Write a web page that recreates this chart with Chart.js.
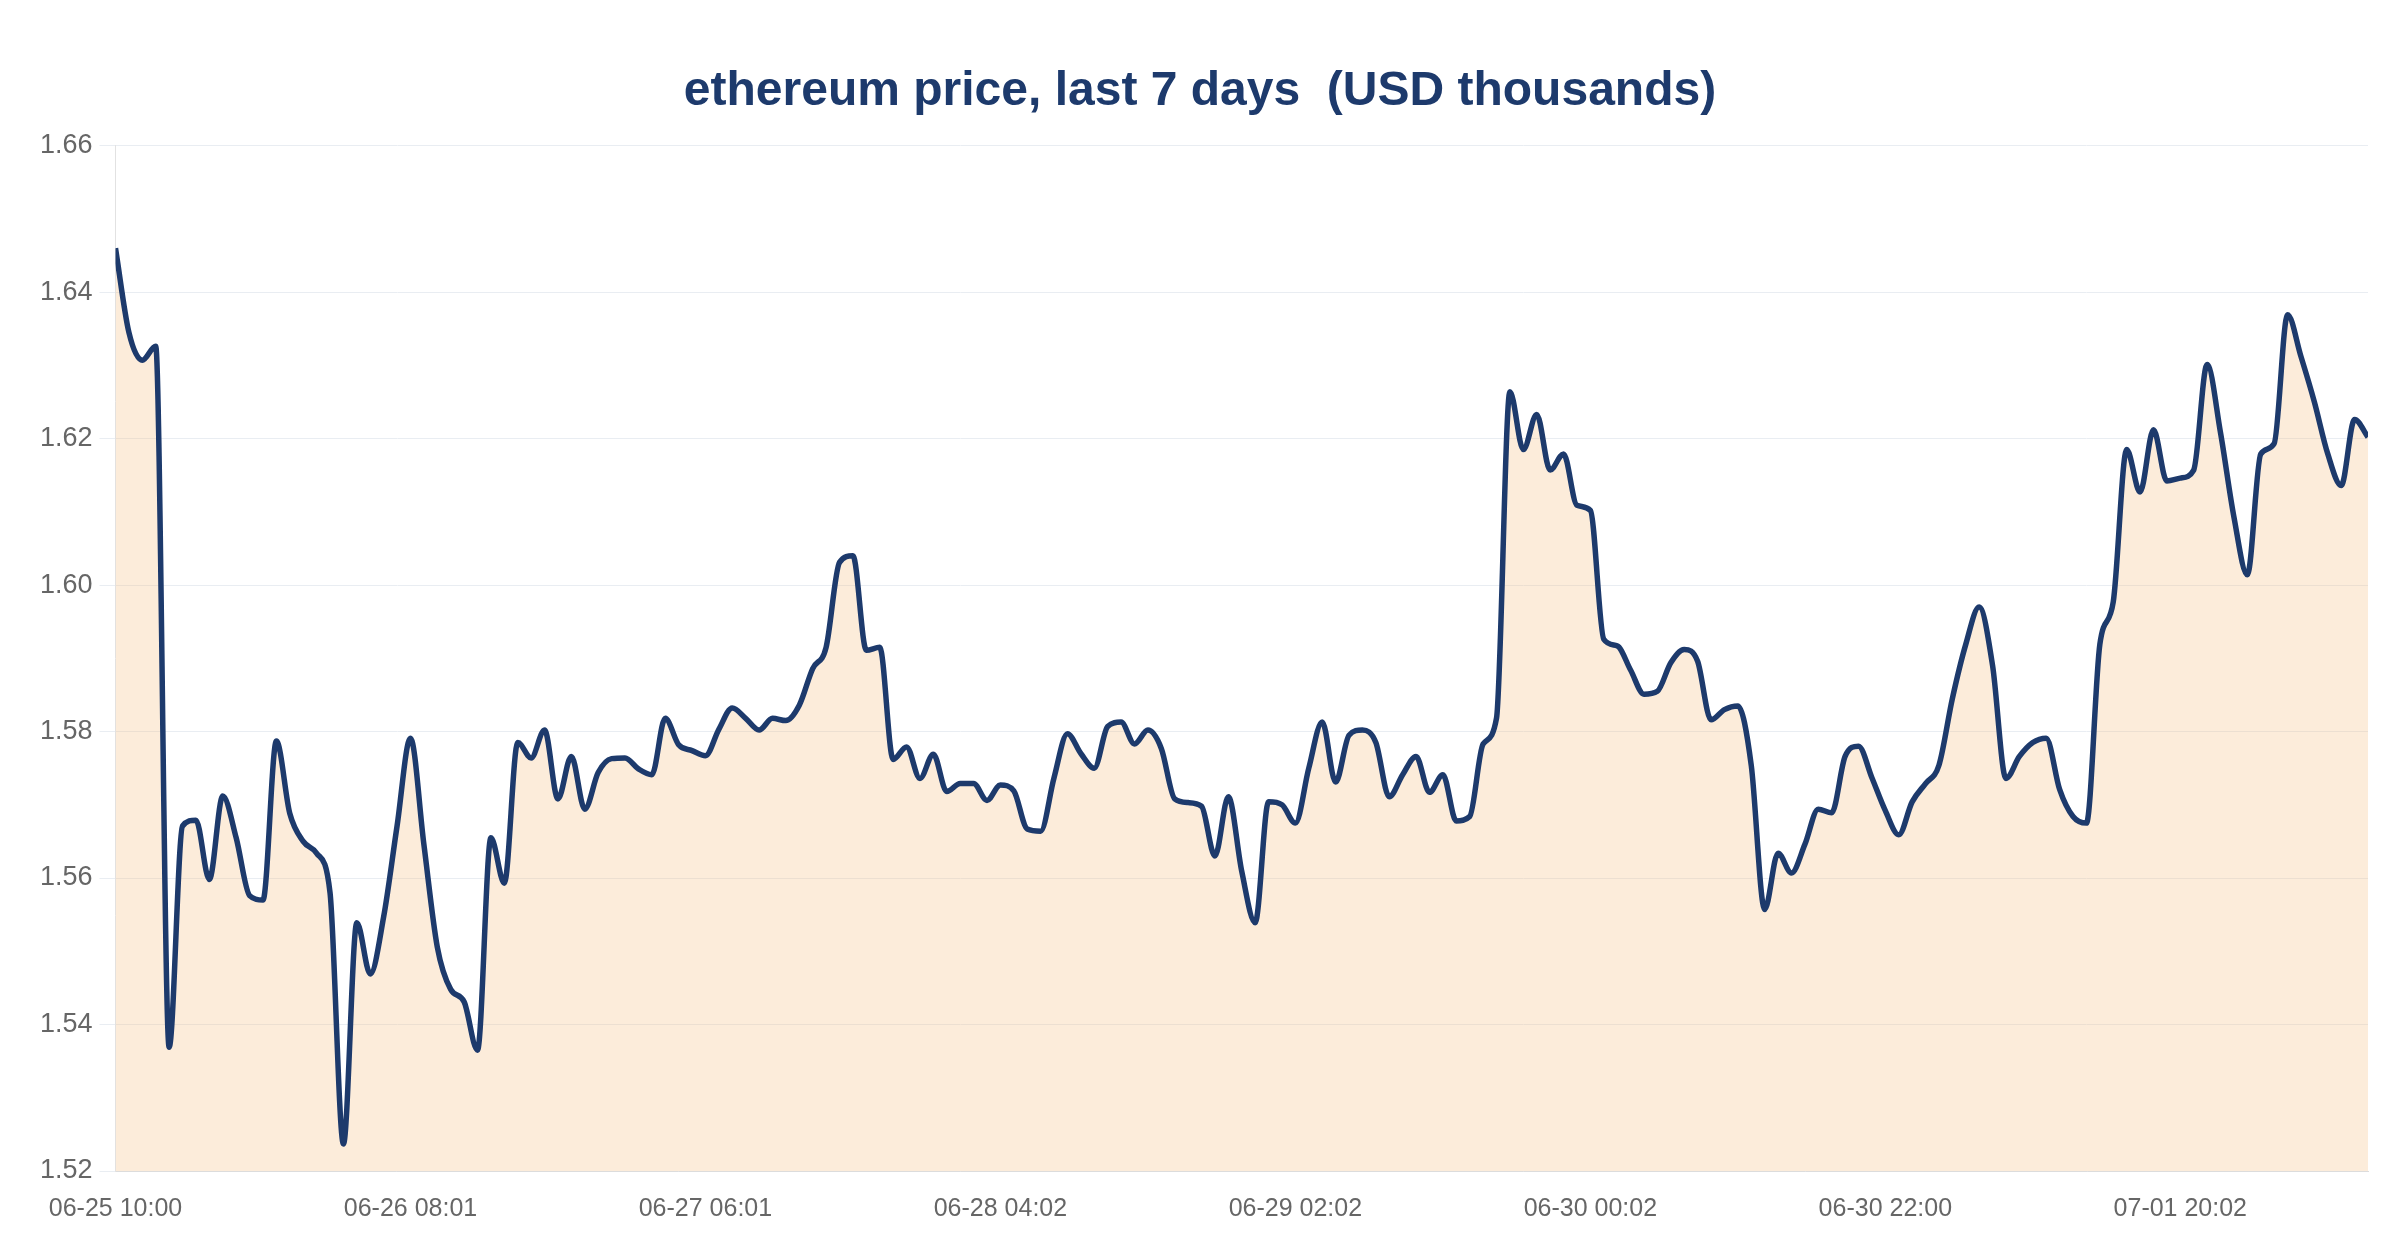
<!DOCTYPE html>
<html>
<head>
<meta charset="utf-8">
<script src="https://cdn.jsdelivr.net/npm/chart.js@4/dist/chart.umd.min.js"></script>
<style>
  html, body { margin: 0; padding: 0; background: #ffffff; }
  #wrap { width: 2400px; height: 1260px; }
</style>
</head>
<body>
<div id="wrap"><canvas id="c" width="2400" height="1260"></canvas></div>
<script>
const chartTitle = 'ethereum price, last 7 days  (USD thousands)';
const tickLabels = ['06-25 10:00', '06-26 08:01', '06-27 06:01', '06-28 04:02', '06-29 02:02', '06-30 00:02', '06-30 22:00', '07-01 20:02'];
const tickEvery = 22;
const yTicks = [1.52, 1.54, 1.56, 1.58, 1.60, 1.62, 1.64, 1.66];
const price = [
  1.6460, 1.6345, 1.6307, 1.6326, 1.5369, 1.5671, 1.5679, 1.5598, 1.5712, 1.5655,
  1.5576, 1.5570, 1.5787, 1.5688, 1.5650, 1.5634, 1.5580, 1.5237, 1.5539, 1.5469,
  1.5547, 1.5671, 1.5791, 1.5646, 1.5506, 1.5448, 1.5431, 1.5365, 1.5655, 1.5593,
  1.5785, 1.5764, 1.5802, 1.5708, 1.5766, 1.5694, 1.5744, 1.5763, 1.5764, 1.5749,
  1.5741, 1.5818, 1.5782, 1.5774, 1.5767, 1.5803, 1.5832, 1.5818, 1.5802, 1.5818,
  1.5815, 1.5836, 1.5886, 1.5915, 1.6031, 1.6040, 1.5911, 1.5915, 1.5762, 1.5779,
  1.5736, 1.5769, 1.5718, 1.5729, 1.5729, 1.5706, 1.5727, 1.5719, 1.5667, 1.5664,
  1.5737, 1.5797, 1.5770, 1.5750, 1.5807, 1.5813, 1.5783, 1.5802, 1.5777, 1.5708,
  1.5703, 1.5698, 1.5630, 1.5711, 1.5609, 1.5539, 1.5704, 1.5700, 1.5675, 1.5750,
  1.5813, 1.5731, 1.5795, 1.5802, 1.5785, 1.5711, 1.5741, 1.5766, 1.5717, 1.5741,
  1.5678, 1.5684, 1.5783, 1.5818, 1.6264, 1.6185, 1.6233, 1.6157, 1.6179, 1.6109,
  1.6102, 1.5926, 1.5917, 1.5884, 1.5851, 1.5855, 1.5894, 1.5912, 1.5896, 1.5816,
  1.5830, 1.5835, 1.5754, 1.5557, 1.5634, 1.5607, 1.5646, 1.5694, 1.5689, 1.5766,
  1.5780, 1.5737, 1.5692, 1.5659, 1.5704, 1.5729, 1.5754, 1.5845, 1.5919, 1.5970,
  1.5890, 1.5736, 1.5766, 1.5785, 1.5791, 1.5721, 1.5684, 1.5675, 1.5919, 1.5977,
  1.6185, 1.6127, 1.6212, 1.6142, 1.6146, 1.6157, 1.6301, 1.6208, 1.6093, 1.6014,
  1.6179, 1.6193, 1.6369, 1.6312, 1.6250, 1.6179, 1.6136, 1.6226, 1.6202
];

const FONT = "'Liberation Sans', Arial, sans-serif";
const points = price.map((v, i) => ({ x: i, y: v }));

new Chart(document.getElementById('c'), {
  type: 'line',
  data: {
    datasets: [{
      data: points,
      borderColor: '#1d3a6c',
      borderWidth: 5.5,
      backgroundColor: 'rgba(245, 192, 132, 0.3)',
      fill: 'start',
      pointRadius: 0,
      pointHoverRadius: 0,
      cubicInterpolationMode: 'monotone',
      borderJoinStyle: 'round',
      borderCapStyle: 'butt'
    }]
  },
  options: {
    responsive: false,
    animation: false,
    events: [],
    layout: { padding: { top: 41, right: 32, bottom: 0, left: 32 } },
    plugins: {
      legend: { display: false },
      tooltip: { enabled: false },
      title: {
        display: true,
        text: chartTitle,
        color: '#1d3a6c',
        font: { family: FONT, size: 48, weight: 'bold' },
        padding: { top: 22, bottom: 25 }
      }
    },
    scales: {
      x: {
        type: 'linear',
        min: 0,
        max: price.length - 1,
        afterBuildTicks: (scale) => {
          scale.ticks = tickLabels.map((_, k) => ({ value: k * tickEvery }));
        },
        afterFit: (scale) => { scale.height = 89; },
        grid: { display: false, drawTicks: false },
        border: { display: true, color: '#dcdcdc', width: 1 },
        ticks: {
          autoSkip: false,
          maxRotation: 0,
          padding: 23,
          color: '#666666',
          font: { family: FONT, size: 25 },
          callback: (value) => tickLabels[Math.round(value / tickEvery)]
        }
      },
      y: {
        type: 'linear',
        min: yTicks[0],
        max: yTicks[yTicks.length - 1],
        afterBuildTicks: (scale) => {
          scale.ticks = yTicks.map(v => ({ value: v }));
        },
        afterFit: (scale) => { scale.width = 83.5; },
        grid: { color: '#e9edf2', lineWidth: 1, tickLength: 16, drawTicks: true },
        border: { display: true, color: '#e2e2e2', width: 1 },
        ticks: {
          padding: 7,
          color: '#666666',
          font: { family: FONT, size: 27 },
          callback: (value) => Number(value).toFixed(2)
        }
      }
    }
  }
});
</script>
</body>
</html>
